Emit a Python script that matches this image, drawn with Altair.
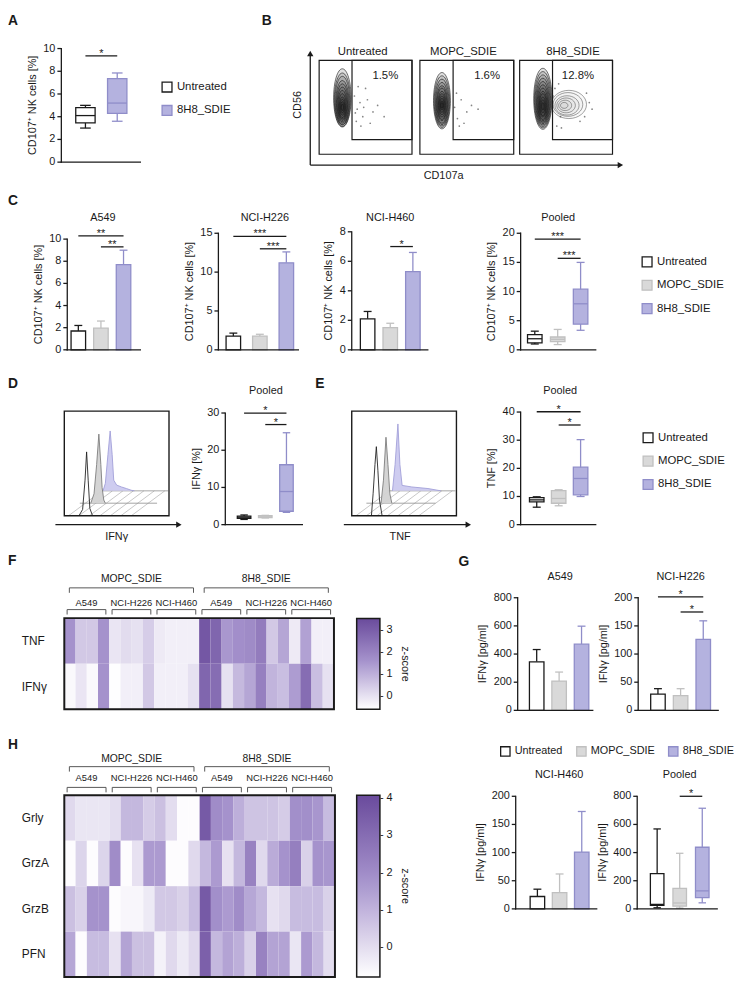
import altair as alt
import pandas as pd

# ---------------------------------------------------------------- layout helpers
SX, SY = 0.98, 0.985


def px(x):
    return int(round((x - 3.0) * SX))


def py(y):
    return int(round((y - 8.0) * SY))


FONT = "Liberation Sans"
INK = "#1a1a1a"

# ---------------------------------------------------------------- data
groups = ["Untreated", "MOPC_SDIE", "8H8_SDIE"]
group_fill = ["#ffffff", "#d9d9d9", "#b4b2df"]
group_stroke = ["#1a1a1a", "#c0c0c0", "#8f8dc9"]

# A  (box plot, CD107+ NK cells %)
a_groups = ["Untreated", "8H8_SDIE"]
a_min = [3.0, 3.6]
a_q1 = [3.45, 4.3]
a_med = [4.1, 5.2]
a_q3 = [4.8, 7.35]
a_max = [5.0, 7.85]
a_sig = [(0, 1, 9.35, "*")]

# B  (flow cytometry, CD56 vs CD107a)
b_titles = ["Untreated", "MOPC_SDIE", "8H8_SDIE"]
b_pct = ["1.5%", "1.6%", "12.8%"]
b_gate_x = [35.4, 35.4, 35.4]
b_gate_y = [15.6, 15.6, 15.6]
b_unt_cx = [25, 25, 25, 25, 25, 25, 25, 25, 25, 25, 25, 25]
b_unt_cy = [60, 58, 57, 55, 54, 53, 52, 51, 50, 50, 50, 50]
b_unt_h = [62, 57, 52, 47, 42, 37, 32, 27, 22, 17, 12, 7]
b_mopc_cx = [23.5, 23.5, 23.5, 23.5, 23.5, 23.5, 23.5, 23.5, 23.5, 23.5, 23.5, 23.5]
b_mopc_cy = [57, 56, 55, 54, 53, 53, 52, 52, 52, 52, 52, 52]
b_mopc_h = [60, 55, 50, 45, 40, 35, 30, 25, 20, 15, 10, 6]
b_8h8_cx = [25, 25, 25, 25, 25, 25, 25, 25, 25, 25, 25, 25]
b_8h8_cy = [59, 58, 57, 56, 55, 54, 53, 52, 52, 51, 51, 51]
b_8h8_h = [65, 60, 55, 50, 45, 40, 35, 30, 25, 20, 14, 8]
b_8h8_wide_cx = [53, 52, 51, 50, 49, 48]
b_8h8_wide_cy = [53, 53, 52, 52, 52, 52]
b_8h8_wide_w = [38, 32, 26, 20, 14, 8]
b_unt_dot_x = [38, 41, 44, 47, 40, 52, 58, 45, 63, 50, 42, 70, 55, 39, 48]
b_unt_dot_y = [62, 48, 55, 40, 35, 58, 45, 30, 52, 70, 72, 40, 33, 44, 50]
b_mopc_dot_x = [37, 40, 44, 50, 42, 55, 39, 47, 62]
b_mopc_dot_y = [50, 38, 58, 45, 30, 52, 65, 33, 48]
b_8h8_dot_x = [38, 42, 70, 75, 72, 40, 45, 78, 65, 36, 44]
b_8h8_dot_y = [70, 75, 40, 55, 65, 30, 28, 48, 35, 62, 40]

# C  (bars: mean and upper error; pooled box plot)
c_a549_mean = [1.7, 1.95, 7.7]
c_a549_err = [2.2, 2.6, 9.0]
c_a549_sig = [(0, 2, 10.3, "**"), (1, 2, 9.3, "**")]
c_h226_mean = [1.75, 1.75, 11.2]
c_h226_err = [2.15, 2.0, 12.6]
c_h226_sig = [(0, 2, 14.6, "***"), (1, 2, 13.0, "***")]
c_h460_mean = [2.1, 1.5, 5.3]
c_h460_err = [2.6, 1.8, 6.6]
c_h460_sig = [(1, 2, 7.0, "*")]
c_pool_min = [1.0, 0.9, 3.35]
c_pool_q1 = [1.2, 1.4, 4.4]
c_pool_med = [1.9, 1.8, 7.9]
c_pool_q3 = [2.6, 2.2, 10.4]
c_pool_max = [3.2, 3.5, 15.0]
c_pool_sig = [(0, 2, 19.0, "***"), (1, 2, 15.7, "***")]

# D / E  (histograms and pooled box plots)
d_black_x = [14, 17.5, 19.8, 21.3, 22.8, 24.4, 27]
d_black_y = [0, 6, 34, 61, 34, 7, 0]
d_grey_x = [25.3, 28.4, 30.9, 33.0, 34.9, 36.1, 37.7, 39.2]
d_grey_y = [12, 21, 49, 78, 49, 27, 15, 12]
d_purple_x = [37, 39.2, 41.7, 43.8, 45.7, 47.2, 50, 54.6, 59.3, 63.9, 67]
d_purple_y = [23.8, 31, 58.6, 81, 58.6, 34, 29.3, 27.5, 26, 24.4, 23.8]
d_floor_x0 = [14.8, 36]
d_floor_x1 = [88.6, 99]
d_floor_y = [12, 23.8]
d_min = [1.4, 1.8, 3.3]
d_q1 = [1.7, 1.9, 3.6]
d_med = [2.0, 2.1, 8.9]
d_q3 = [2.3, 2.4, 16.1]
d_max = [2.6, 2.5, 24.7]
d_sig = [(0, 2, 30.0, "*"), (1, 2, 26.9, "*")]

e_black_x = [18.8, 20.4, 22.2, 23.5, 25.0, 26.5, 29.0]
e_black_y = [0, 21, 49, 66, 43, 15, 0]
e_grey_x = [28.0, 30.3, 32.7, 34.6, 36.4, 38.3]
e_grey_y = [12, 34, 75, 49, 21, 12]
e_purple_x = [38.9, 41.4, 44.1, 46.0, 48.1, 57.4, 72.8, 85.2]
e_purple_y = [23.8, 49, 87.7, 49, 29, 27.5, 26, 23.8]
e_floor_x0 = [14, 34]
e_floor_x1 = [80, 99]
e_floor_y = [12, 23.8]
e_min = [6.2, 6.7, 10.0]
e_q1 = [8.1, 7.6, 10.6]
e_med = [8.8, 9.3, 16.4]
e_q3 = [9.6, 12.1, 20.4]
e_max = [9.9, 12.4, 30.2]
e_sig = [(0, 2, 40.1, "*"), (1, 2, 35.4, "*")]

hatch_lo = [4, 14, 24, 34, 44, 54, 64]
hatch_hi = [36, 46, 56, 66, 76, 86, 96]

# F / H  (heatmaps, z-scores; 2 treatments x 3 cell lines x 4 donors)
treatments = ["MOPC_SDIE", "8H8_SDIE"]
cell_lines = ["A549", "NCI-H226", "NCI-H460"]
n_donors = 4
f_rows = ["TNF", "IFNγ"]
f_tnf = [1.6, 0.5, 0.5, 1.6, -0.1, 0.1, 0.0, 0.4, -0.2, -0.3, -0.3, -0.3,
         3.2, 2.8, 1.5, 1.7, 1.8, 2.2, 0.5, 1.2, -0.2, 1.3, -0.3, -0.3]
f_ifng = [-0.5, -0.1, -0.5, 1.6, -0.6, -0.3, -0.3, 0.5, -0.3, -0.3, -0.3, 0.0,
          2.8, 2.6, 0.0, 0.8, 1.2, 2.1, 0.9, 0.7, 1.4, 2.6, 0.7, 0.0]
h_rows = ["Grly", "GrzA", "GrzB", "PFN"]
h_grly = [0.1, -0.2, -0.2, -0.2, 0.0, 0.9, 0.9, 0.4, 0.7, 0.0, -0.75, -0.75,
          3.6, 2.0, 1.8, 1.1, 0.6, 0.6, 0.6, 0.4, 1.9, 1.9, 1.7, 0.8]
h_grza = [-0.75, 0.2, -0.75, 0.2, 2.0, -0.75, -0.1, 1.6, 1.6, -0.75, -0.75, 0.1,
          0.9, 1.6, -0.1, 0.9, 2.3, 0.1, 1.2, 1.8, 2.4, 0.3, 1.8, 1.7]
h_grzb = [0.7, 0.3, 1.8, 1.8, -0.75, -0.6, -0.6, -0.3, 0.5, 0.5, 0.3, 0.8,
          3.6, 1.9, 1.6, 2.0, 1.3, 0.9, -0.1, 0.1, 0.8, 0.8, 0.8, 0.3]
h_pfn = [1.3, -0.75, 0.8, 0.8, -0.1, 1.4, 0.7, 0.7, -0.5, 0.1, -0.3, 0.1,
         3.4, 0.9, 1.4, 1.1, 0.3, 2.3, 1.4, 1.4, -0.2, 1.6, 0.9, 0.0]
f_domain = [-0.62, 1.6, 3.53]
h_domain = [-0.81, 1.8, 4.08]
heat_colors = ["#ffffff", "#a592cc", "#6a4b9c"]

# G  (IFNγ ELISA, pg/ml)
g_a549_mean = [345, 208, 470]
g_a549_err = [432, 272, 598]
g_h226_mean = [29, 26, 126]
g_h226_err = [38.5, 38.5, 159]
g_h226_sig = [(0, 2, 201.7, "*"), (1, 2, 174.7, "*")]
g_h460_mean = [22, 29, 101]
g_h460_err = [35, 62, 173]
g_pool_min = [8, 6, 43]
g_pool_q1 = [25, 19, 80]
g_pool_med = [32, 42, 128]
g_pool_q3 = [250, 145, 438]
g_pool_max = [568, 395, 715]
g_pool_sig = [(1, 2, 800, "*")]

# ---------------------------------------------------------------- building blocks
ONE = pd.DataFrame({"k": [0]})


def label(text, x, y, size=11, weight="normal", align="center", baseline="middle", angle=0):
    return alt.Chart(pd.DataFrame({"t": [text]})).mark_text(
        font=FONT, fontSize=size, fontWeight=weight, align=align,
        baseline=baseline, angle=angle, color=INK,
    ).encode(text="t:N", x=alt.value(x), y=alt.value(y))


def spacer(w, texts=(), extent=None):
    """Empty cell of width w; `extent` (y0, y1) pins the vertical bounds of the row."""
    y0, y1 = extent if extent else (0, 0)
    base = alt.Chart(ONE).mark_rule(strokeWidth=0, opacity=0).encode(
        x=alt.value(0), y=alt.value(y0), y2=alt.value(y1))
    return alt.layer(base, *texts).properties(width=w, height=1)


def hline_arrow(x0, x1, y):
    line = alt.Chart(ONE).mark_rule(color=INK, strokeWidth=1.3).encode(
        x=alt.value(x0), x2=alt.value(x1), y=alt.value(y))
    head = alt.Chart(ONE).mark_point(shape="triangle-right", filled=True, size=40,
                                     color=INK, opacity=1).encode(x=alt.value(x1), y=alt.value(y))
    return [line, head]


def vline_arrow(x, y0, y1):
    line = alt.Chart(ONE).mark_rule(color=INK, strokeWidth=1.3).encode(
        x=alt.value(x), y=alt.value(y0), y2=alt.value(y1))
    head = alt.Chart(ONE).mark_point(shape="triangle-up", filled=True, size=40,
                                     color=INK, opacity=1).encode(x=alt.value(x), y=alt.value(y1))
    return [line, head]


def fill_enc(names, legend):
    m = dict(zip(groups, group_fill))
    return alt.Fill("group:N", scale=alt.Scale(domain=names, range=[m[n] for n in names]), legend=legend)


def stroke_enc(names, legend):
    m = dict(zip(groups, group_stroke))
    return alt.Stroke("group:N", scale=alt.Scale(domain=names, range=[m[n] for n in names]), legend=legend)


def legend_v(P, L, x, y_first):
    return alt.Legend(orient="none", legendX=px(x) - px(L), legendY=py(y_first - 8.5) - py(P),
                      title=None, symbolType="square", symbolSize=100, symbolStrokeWidth=1.3,
                      labelFont=FONT, labelFontSize=11.5, labelColor=INK, labelOffset=4,
                      rowPadding=22 * SY - 14, padding=0)


def legend_h(P, L, x, y):
    return alt.Legend(orient="none", direction="horizontal", legendX=px(x) - px(L),
                      legendY=py(y - 3.5) - py(P), title=None, symbolType="square",
                      symbolSize=90, symbolStrokeWidth=1.3, labelFont=FONT, labelFontSize=11,
                      labelColor=INK, labelOffset=4, columnPadding=11, padding=0)


def mk_scales(P, L, R, axis_y, top_y, ymax, c0, step):
    """Plot area spans from the row's plot line P down to the x axis."""
    W = px(R) - px(L)
    H = py(axis_y) - py(P)
    ytop = ymax * (axis_y - P) / (axis_y - top_y)
    xs = alt.Scale(domain=[(L - c0) / step, (R - c0) / step], nice=False, zero=False, padding=0)
    ys = alt.Scale(domain=[0, ytop], nice=False, zero=False, padding=0)
    return W, H, xs, ys, ytop


def axis_layers(ticks, ys, ytop, W, H, title):
    """Axis lines, ticks and labels drawn through the panel's own y scale."""
    tdf = pd.DataFrame({"v": ticks, "lab": [str(t) for t in ticks]})
    ddf = pd.DataFrame({"lo": [min(ticks)], "hi": [max(ticks)]})
    Y = lambda f: alt.Y(f, type="quantitative", scale=ys, axis=None)
    ydom = alt.Chart(ddf).mark_rule(color=INK, strokeWidth=1.3, strokeCap="square").encode(
        x=alt.value(0), y=Y("lo"), y2="hi")
    ytk = alt.Chart(tdf).mark_rule(color=INK, strokeWidth=1.3).encode(
        x=alt.value(-4), x2=alt.value(0), y=Y("v"))
    ylab = alt.Chart(tdf).mark_text(font=FONT, fontSize=11, color=INK, align="right",
                                    baseline="middle").encode(x=alt.value(-6), y=Y("v"), text="lab:N")
    xdom = alt.Chart(ONE).mark_rule(color=INK, strokeWidth=1.3, strokeCap="square").encode(
        x=alt.value(0), x2=alt.value(W), y=alt.value(H))
    maxlen = max(len(s) for s in tdf["lab"])
    tx = -(6 + maxlen * 6.1 + 5 + 5.5)
    top_px = H * (1 - max(ticks) / ytop)
    ttl = label(title, tx, (H + top_px) / 2, angle=270)
    return [ydom, ytk, ylab, xdom, ttl]


def sig_layers(sig, xs, ys):
    if not sig:
        return []
    df = pd.DataFrame({"a": [s[0] for s in sig], "b": [s[1] for s in sig],
                       "lev": [s[2] for s in sig], "lab": [s[3] for s in sig]})
    df["mid"] = (df["a"] + df["b"]) / 2
    line = alt.Chart(df).mark_rule(color=INK, strokeWidth=1.3).encode(
        x=alt.X("a:Q", scale=xs, axis=None), x2="b:Q", y=alt.Y("lev:Q", scale=ys, axis=None))
    star = alt.Chart(df).mark_text(font=FONT, fontSize=11, color=INK, baseline="alphabetic", dy=1).encode(
        x=alt.X("mid:Q", scale=xs, axis=None), y=alt.Y("lev:Q", scale=ys, axis=None), text="lab:N")
    return [line, star]


def bar_panel(P, L, R, axis_y, top_y, ymax, ticks, c0, step, bw, names, means, errs, sig,
              title, tx, ty, ytitle, legend=None, cap=8):
    W, H, xs, ys, ytop = mk_scales(P, L, R, axis_y, top_y, ymax, c0, step)
    df = pd.DataFrame({"idx": list(range(len(names))), "group": names, "mean": means, "err": errs})
    base = alt.Chart(df)
    fs, ss = fill_enc(names, legend), stroke_enc(names, legend)
    Xn = alt.X("idx:Q", scale=xs, axis=None)
    bars = base.mark_bar(width=bw * SX, strokeWidth=1.3).encode(
        x=Xn, y=alt.Y("mean:Q", scale=ys, axis=None), y2=alt.datum(0), fill=fs, stroke=ss)
    er = base.mark_rule(strokeWidth=1.3).encode(
        x=Xn, y=alt.Y("mean:Q", scale=ys, axis=None), y2="err:Q", stroke=ss)
    ec = base.mark_rule(strokeWidth=1.3, xOffset=-cap / 2, x2Offset=cap / 2).encode(
        x=Xn, x2="idx:Q", y=alt.Y("err:Q", scale=ys, axis=None), stroke=ss)
    layers = [er, ec, bars] + sig_layers(sig, xs, ys) + axis_layers(ticks, ys, ytop, W, H, ytitle)
    if title:
        layers.append(label(title, px(tx) - px(L), py(ty) - py(P)))
    return alt.layer(*layers).properties(width=W, height=H)


def box_panel(P, L, R, axis_y, top_y, ymax, ticks, c0, step, bw, names, mn, q1, md, q3, mx, sig,
              title, tx, ty, ytitle, legend=None):
    W, H, xs, ys, ytop = mk_scales(P, L, R, axis_y, top_y, ymax, c0, step)
    df = pd.DataFrame({"idx": list(range(len(names))), "group": names,
                       "mn": mn, "q1": q1, "md": md, "q3": q3, "mx": mx})
    base = alt.Chart(df)
    b = bw * SX
    cap = b * 0.55
    fs, ss = fill_enc(names, legend), stroke_enc(names, legend)
    Xn = alt.X("idx:Q", scale=xs, axis=None)
    whisk = base.mark_rule(strokeWidth=1.3).encode(
        x=Xn, y=alt.Y("mn:Q", scale=ys, axis=None), y2="mx:Q", stroke=ss)
    cap_hi = base.mark_rule(strokeWidth=1.3, xOffset=-cap / 2, x2Offset=cap / 2).encode(
        x=Xn, x2="idx:Q", y=alt.Y("mx:Q", scale=ys, axis=None), stroke=ss)
    cap_lo = base.mark_rule(strokeWidth=1.3, xOffset=-cap / 2, x2Offset=cap / 2).encode(
        x=Xn, x2="idx:Q", y=alt.Y("mn:Q", scale=ys, axis=None), stroke=ss)
    box = base.mark_bar(width=b, strokeWidth=1.3).encode(
        x=Xn, y=alt.Y("q1:Q", scale=ys, axis=None), y2="q3:Q", fill=fs, stroke=ss)
    med = base.mark_rule(strokeWidth=1.3, xOffset=-b / 2, x2Offset=b / 2).encode(
        x=Xn, x2="idx:Q", y=alt.Y("md:Q", scale=ys, axis=None), stroke=ss)
    layers = ([whisk, cap_hi, cap_lo, box, med] + sig_layers(sig, xs, ys)
              + axis_layers(ticks, ys, ytop, W, H, ytitle))
    if title:
        layers.append(label(title, px(tx) - px(L), py(ty) - py(P)))
    return alt.layer(*layers).properties(width=W, height=H)


TALL = ("M0,-1C0.166,-1,0.3,-0.552,0.3,0C0.3,0.552,0.166,1,0,1"
        "C-0.166,1,-0.3,0.552,-0.3,0C-0.3,-0.552,-0.166,-1,0,-1Z")
WIDE = ("M0,-0.8C0.552,-0.8,1,-0.442,1,0C1,0.442,0.552,0.8,0,0.8"
        "C-0.552,0.8,-1,0.442,-1,0C-1,-0.442,-0.552,-0.8,0,-0.8Z")


def frame_scales(P, L, R, top_y, bot_y):
    W = px(R) - px(L)
    H = py(bot_y) - py(P)
    ytop = 100.0 * (bot_y - P) / (bot_y - top_y)
    xs = alt.Scale(domain=[0, 100], nice=False, zero=False, padding=0)
    ys = alt.Scale(domain=[0, ytop], nice=False, zero=False, padding=0)
    return W, H, xs, ys, (py(bot_y) - py(top_y))


def flow_panel(P, L, R, top_y, bot_y, gx, gy, pct, pct_xy, title, title_xy,
               cx, cy, ch, dots_x, dots_y, wide=None, extra=()):
    W, H, xs, ys, fh = frame_scales(P, L, R, top_y, bot_y)

    def X(f):
        return alt.X(f, type="quantitative", scale=xs, axis=None)

    def Y(f):
        return alt.Y(f, type="quantitative", scale=ys, axis=None)

    frame = alt.Chart(pd.DataFrame({"x0": [0], "x1": [100], "y0": [0], "y1": [100]})).mark_rect(
        fillOpacity=0, stroke=INK, strokeWidth=1.2).encode(x=X("x0"), x2="x1", y=Y("y0"), y2="y1")
    gate = alt.Chart(pd.DataFrame({"x0": [gx], "x1": [100], "y0": [gy], "y1": [100]})).mark_rect(
        fillOpacity=0, stroke=INK, strokeWidth=1.2).encode(x=X("x0"), x2="x1", y=Y("y0"), y2="y1")
    dots = alt.Chart(pd.DataFrame({"x": dots_x, "y": dots_y})).mark_circle(
        size=3, color="#666666", opacity=0.8).encode(x=X("x"), y=Y("y"))
    cdf = pd.DataFrame({"cx": cx, "cy": cy, "h": ch})
    cdf["s"] = (cdf["h"] * fh / 100.0) ** 2
    cont = alt.Chart(cdf).mark_point(shape=TALL, filled=True, color="#111111", fillOpacity=0.13,
                                     stroke="#111111", strokeWidth=0.6, opacity=1).encode(
        x=X("cx"), y=Y("cy"), size=alt.Size("s:Q", scale=None))
    layers = [frame, dots, cont]
    if wide is not None:
        wdf = pd.DataFrame({"cx": wide[0], "cy": wide[1], "w": wide[2]})
        wdf["s"] = (wdf["w"] * W / 100.0) ** 2
        layers.append(alt.Chart(wdf).mark_point(shape=WIDE, filled=True, color="#333333",
                                                fillOpacity=0.03, stroke="#444444",
                                                strokeWidth=0.5, opacity=1).encode(
            x=X("cx"), y=Y("cy"), size=alt.Size("s:Q", scale=None)))
    layers.append(gate)
    layers.append(label(pct, px(pct_xy[0]) - px(L), py(pct_xy[1]) - py(P), size=11.5))
    layers.append(label(title, px(title_xy[0]) - px(L), py(title_xy[1]) - py(P), size=11.5))
    layers += list(extra)
    return alt.layer(*layers).properties(width=W, height=H)


def hist_panel(P, L, R, top_y, bot_y, bx, by, gx, gy, ux, uy, fx0, fx1, fy,
               ax0, ax1, ay, lab, lab_xy):
    W, H, xs, ys, fh = frame_scales(P, L, R, top_y, bot_y)

    def X(f):
        return alt.X(f, type="quantitative", scale=xs, axis=None)

    def Y(f):
        return alt.Y(f, type="quantitative", scale=ys, axis=None)

    hdf = pd.DataFrame({"x0": hatch_lo, "x1": hatch_hi})
    hdf["y0"] = 0.0
    hdf["y1"] = fy[-1]
    hatch = alt.Chart(hdf).mark_rule(color="#b0b0b0", strokeWidth=0.7).encode(
        x=X("x0"), x2="x1", y=Y("y0"), y2="y1")
    floors = alt.Chart(pd.DataFrame({"x0": fx0, "x1": fx1, "y": fy})).mark_rule(
        color="#8c8c8c", strokeWidth=0.8).encode(x=X("x0"), x2="x1", y=Y("y"))
    layers = [hatch, floors]
    for xs_, ys_, base_v, fill, line in [(ux, uy, fy[1], "#cbc9ef", "#a19fd9"),
                                          (gx, gy, fy[0], "#d2d2d2", "#7d7d7d")]:
        cdf = pd.DataFrame({"x": xs_, "y": ys_})
        cdf["base"] = base_v
        layers.append(alt.Chart(cdf).mark_area(color=fill, opacity=0.95).encode(
            x=X("x"), y=Y("y"), y2="base"))
        layers.append(alt.Chart(cdf).mark_line(color=line, strokeWidth=0.9).encode(x=X("x"), y=Y("y")))
    layers.append(alt.Chart(pd.DataFrame({"x": bx, "y": by})).mark_line(
        color="#222222", strokeWidth=0.9).encode(x=X("x"), y=Y("y")))
    layers.append(alt.Chart(pd.DataFrame({"x0": [0], "x1": [100], "y0": [0], "y1": [100]})).mark_rect(
        fillOpacity=0, stroke=INK, strokeWidth=1.4).encode(x=X("x0"), x2="x1", y=Y("y0"), y2="y1"))
    layers += hline_arrow(px(ax0) - px(L), px(ax1) - px(L), py(ay) - py(P))
    layers.append(label(lab, px(lab_xy[0]) - px(L), py(lab_xy[1]) - py(P), size=11))
    return alt.layer(*layers).properties(width=W, height=H)


def heat_panel(P, L, R, top_y, bot_y, row_names, row_vals, cdom, cvals, cb_x,
               lab_x, lab_size, tr_y, ln_y, zt_x):
    W = px(R) - px(L)
    H = py(bot_y) - py(P)
    ncol = len(row_vals[0])
    nrow = len(row_names)
    xs = alt.Scale(domain=[0, ncol], nice=False, zero=False, padding=0)
    ys = alt.Scale(domain=[0, nrow * (bot_y - P) / (bot_y - top_y)], nice=False, zero=False, padding=0)
    top_px = py(top_y) - py(P)

    def X(f):
        return alt.X(f, type="quantitative", scale=xs, axis=None)

    def Y(f):
        return alt.Y(f, type="quantitative", scale=ys, axis=None)

    recs = []
    for r, vals in enumerate(row_vals):
        for c, v in enumerate(vals):
            recs.append({"c0": c, "c1": c + 1, "r0": nrow - 1 - r, "r1": nrow - r, "z": v})
    cdf = pd.DataFrame(recs)
    leg = alt.Legend(orient="none", legendX=px(cb_x) - px(L), legendY=top_px, direction="vertical",
                     gradientLength=py(bot_y) - py(top_y), gradientThickness=24 * SX,
                     gradientStrokeColor=INK, gradientStrokeWidth=1.5, values=cvals,
                     labelExpr="'- ' + datum.label", labelFont=FONT, labelFontSize=11,
                     labelColor=INK, labelOffset=0, title=None, padding=0)
    cells = alt.Chart(cdf).mark_rect(strokeWidth=0).encode(
        x=X("c0"), x2="c1", y=Y("r0"), y2="r1",
        color=alt.Color("z:Q", scale=alt.Scale(domain=cdom, range=heat_colors, interpolate="rgb"),
                        legend=leg))
    frame = alt.Chart(pd.DataFrame({"x0": [0], "x1": [ncol], "y0": [0], "y1": [nrow]})).mark_rect(
        fillOpacity=0, stroke=INK, strokeWidth=2).encode(x=X("x0"), x2="x1", y=Y("y0"), y2="y1")
    rl = pd.DataFrame({"name": row_names, "rm": [nrow - 1 - r + 0.5 for r in range(nrow)]})
    rlab = alt.Chart(rl).mark_text(font=FONT, fontSize=lab_size, color=INK, align="left",
                                   baseline="middle").encode(
        x=alt.value(px(lab_x) - px(L)), y=Y("rm"), text="name:N")
    per_t = len(cell_lines) * n_donors
    tr = pd.DataFrame({"start": [t * per_t + 0.45 for t in range(len(treatments))],
                       "end": [t * per_t + per_t - 0.5 for t in range(len(treatments))],
                       "label": treatments})
    ln = pd.DataFrame({"start": [t * per_t + l * n_donors + 0.25 for t in range(len(treatments))
                                 for l in range(len(cell_lines))],
                       "end": [t * per_t + l * n_donors + n_donors - 0.3 for t in range(len(treatments))
                               for l in range(len(cell_lines))],
                       "label": [c for t in treatments for c in cell_lines]})
    layers = [cells, frame, rlab]
    for bdf, (yl, yt, ylab, fsz) in [(tr, tr_y), (ln, ln_y)]:
        bdf = bdf.copy()
        bdf["mid"] = (bdf["start"] + bdf["end"]) / 2
        yl_, yt_, ylab_ = py(yl) - py(P), py(yt) - py(P), py(ylab) - py(P)
        b = alt.Chart(bdf)
        layers.append(b.mark_rule(color="#555555", strokeWidth=1).encode(
            x=X("start"), x2="end", y=alt.value(yl_)))
        layers.append(b.mark_rule(color="#555555", strokeWidth=1).encode(
            x=X("start"), y=alt.value(yl_), y2=alt.value(yt_)))
        layers.append(b.mark_rule(color="#555555", strokeWidth=1).encode(
            x=X("end"), y=alt.value(yl_), y2=alt.value(yt_)))
        layers.append(b.mark_text(font=FONT, fontSize=fsz, color=INK, baseline="middle").encode(
            x=X("mid"), y=alt.value(ylab_), text="label:N"))
    layers.append(label("z-score", px(zt_x) - px(L), (top_px + H) / 2, size=11, angle=90))
    return alt.layer(*layers).properties(width=W, height=H)


def letter(ch, x, y):
    return label(ch, x, y, size=14, weight="bold", align="left", baseline="alphabetic")


def ext(T, B, P):
    return (py(T) - py(P), py(B) - py(P))


YT_CD = "CD107⁺ NK cells [%]"
YT_G = "IFNγ [pg/ml]"

# ---------------------------------------------------------------- row 1 : A, B
T1, B1, P1 = 8, 183, 43
chart_a = box_panel(P1, 58, 140, 159, 43, 10, [0, 2, 4, 6, 8, 10], 83, 33, 20, a_groups,
                    a_min, a_q1, a_med, a_q3, a_max, a_sig, None, 0, 0, YT_CD,
                    legend=legend_v(P1, 58, 161, 85))

b_extra = (vline_arrow(px(315) - px(324), py(162) - py(P1), py(48) - py(P1))
           + hline_arrow(px(315) - px(324), px(636) - px(324), py(162) - py(P1))
           + [label("CD56", px(303) - px(324), py(100) - py(P1), angle=270),
              label("CD107a", px(453) - px(324), py(173) - py(P1))])
flow1 = flow_panel(P1, 324, 420, 55, 151, b_gate_x[0], b_gate_y[0], b_pct[0], (393, 71),
                   b_titles[0], (369, 47), b_unt_cx, b_unt_cy, b_unt_h,
                   b_unt_dot_x, b_unt_dot_y, extra=b_extra)
flow2 = flow_panel(P1, 429, 525, 55, 151, b_gate_x[1], b_gate_y[1], b_pct[1], (498, 71),
                   b_titles[1], (473, 47), b_mopc_cx, b_mopc_cy, b_mopc_h,
                   b_mopc_dot_x, b_mopc_dot_y)
flow3 = flow_panel(P1, 532, 628, 55, 151, b_gate_x[2], b_gate_y[2], b_pct[2], (592, 71),
                   b_titles[2], (587, 47), b_8h8_cx, b_8h8_cy, b_8h8_h,
                   b_8h8_dot_x, b_8h8_dot_y, wide=(b_8h8_wide_cx, b_8h8_wide_cy, b_8h8_wide_w))

row1 = alt.hconcat(
    spacer(px(58) - px(3), [letter("A", 0, py(18) - py(P1))], ext(T1, B1, P1)),
    chart_a,
    spacer(px(324) - px(140), [letter("B", px(265) - px(140), py(18) - py(P1))]),
    flow1, spacer(px(429) - px(420)), flow2, spacer(px(532) - px(525)), flow3,
    spacing=0, bounds="flush",
)

# ---------------------------------------------------------------- row 2 : C
T2, B2, P2 = 183, 362, 232.5
c1 = bar_panel(P2, 64, 140, 352, 238.5, 10, [0, 2, 4, 6, 8, 10], 75.5, 23.5, 15, groups,
               c_a549_mean, c_a549_err, c_a549_sig, cell_lines[0], 101, 217, YT_CD)
c2 = bar_panel(P2, 220, 303, 352, 232.5, 15, [0, 5, 10, 15], 235.5, 27.5, 15, groups,
               c_h226_mean, c_h226_err, c_h226_sig, cell_lines[1], 268, 217, YT_CD)
c3 = bar_panel(P2, 358, 437, 352, 231, 8, [0, 2, 4, 6, 8], 374.5, 23.5, 15, groups,
               c_h460_mean, c_h460_err, c_h460_sig, cell_lines[2], 398, 217, YT_CD)
c4 = box_panel(P2, 533, 610, 352, 232.5, 20, [0, 5, 10, 15, 20], 547.5, 23.5, 15, groups,
               c_pool_min, c_pool_q1, c_pool_med, c_pool_q3, c_pool_max, c_pool_sig,
               "Pooled", 571, 217, YT_CD, legend=legend_v(P2, 533, 657, 264))
row2 = alt.hconcat(
    spacer(px(64) - px(3), [letter("C", 0, py(203) - py(P2))], ext(T2, B2, P2)),
    c1, spacer(px(220) - px(140)), c2, spacer(px(358) - px(303)), c3,
    spacer(px(533) - px(437)), c4,
    spacing=0, bounds="flush",
)

# ---------------------------------------------------------------- row 3 : D, E
T3, B3, P3 = 362, 556, 416
dh = hist_panel(P3, 61, 169, 415, 523, d_black_x, d_black_y, d_grey_x, d_grey_y,
                d_purple_x, d_purple_y, d_floor_x0, d_floor_x1, d_floor_y,
                52, 180, 532, "IFNγ", (115, 545))
db = box_panel(P3, 227, 307, 532, 417, 30, [0, 10, 20, 30], 246.5, 22, 14, groups,
               d_min, d_q1, d_med, d_q3, d_max, d_sig, "Pooled", 269, 395, "IFNγ [%]")
eh = hist_panel(P3, 358, 466, 415, 523, e_black_x, e_black_y, e_grey_x, e_grey_y,
                e_purple_x, e_purple_y, e_floor_x0, e_floor_x1, e_floor_y,
                350, 478, 532, "TNF", (408, 545))
eb = box_panel(P3, 533, 610, 532, 416, 40, [0, 10, 20, 30, 40], 549.5, 22.5, 15, groups,
               e_min, e_q1, e_med, e_q3, e_max, e_sig, "Pooled", 573, 395, "TNF [%]",
               legend=legend_v(P3, 533, 658, 445))
row3 = alt.hconcat(
    spacer(px(61) - px(3), [letter("D", 0, py(392) - py(P3))], ext(T3, B3, P3)),
    dh, spacer(px(227) - px(169)), db,
    spacer(px(358) - px(307), [letter("E", px(320) - px(307), py(392) - py(P3))]),
    eh, spacer(px(533) - px(466)), eb,
    spacing=0, bounds="flush",
)

# ---------------------------------------------------------------- row 4 : F, G (top)
T4, B4, P4 = 556, 748, 607
fmap = heat_panel(P4, 61, 340, 628, 722, f_rows, [f_tnf, f_ifng], f_domain, [0, 1, 2, 3],
                  363, 17, 12, (597, 602, 588, 10.5), (619.5, 624.5, 612, 9.5), 413)
g1 = bar_panel(P4, 530, 607, 723, 607, 800, [0, 200, 400, 600, 800], 549.5, 23, 15, groups,
               g_a549_mean, g_a549_err, [], cell_lines[0], 573, 586, YT_G)
g2 = bar_panel(P4, 654, 737, 723, 607, 200, [0, 50, 100, 150, 200], 674.5, 23.5, 15, groups,
               g_h226_mean, g_h226_err, g_h226_sig, cell_lines[1], 698, 586, YT_G)
row4 = alt.hconcat(
    spacer(px(61) - px(3), [letter("F", 0, py(573) - py(P4))], ext(T4, B4, P4)),
    fmap,
    spacer(px(530) - px(340), [letter("G", px(468) - px(340), py(574) - py(P4))]),
    g1, spacer(px(654) - px(607)), g2,
    spacing=0, bounds="flush",
)

# ---------------------------------------------------------------- row 5 : H, G (bottom)
T5, B5, P5 = 748, 999, 811
hmap = heat_panel(P5, 61, 341, 810, 997, h_rows, [h_grly, h_grza, h_grzb, h_pfn], h_domain,
                  [0, 1, 2, 3, 4], 363, 17, 12, (781, 786, 772, 10.5), (802, 807, 793, 9.5), 413)
g3 = bar_panel(P5, 527, 611, 927, 811, 200, [0, 50, 100, 150, 200], 549.5, 23, 15, groups,
               g_h460_mean, g_h460_err, [], cell_lines[2], 572, 789, YT_G,
               legend=legend_h(P5, 527, 511, 763))
g4 = box_panel(P5, 653, 736, 927, 811, 800, [0, 200, 400, 600, 800], 673.7, 23.4, 14, groups,
               g_pool_min, g_pool_q1, g_pool_med, g_pool_q3, g_pool_max, g_pool_sig,
               "Pooled", 697, 789, YT_G)
row5 = alt.hconcat(
    spacer(px(61) - px(3), [letter("H", 0, py(762) - py(P5))], ext(T5, B5, P5)),
    hmap, spacer(px(527) - px(341)), g3, spacer(px(653) - px(611)), g4,
    spacing=0, bounds="flush",
)

RES = dict(color="independent", fill="independent", stroke="independent")
rows = [r.resolve_scale(**RES) for r in (row1, row2, row3, row4, row5)]

chart = (
    alt.vconcat(*rows, spacing=0)
    .resolve_scale(**RES)
    .properties(padding=0)
    .configure_view(stroke=None)
    .configure_legend(labelFont=FONT, titleFont=FONT, labelColor=INK, titleColor=INK)
)

chart.save("out.html", embed_options={"renderer": "svg", "actions": False})
